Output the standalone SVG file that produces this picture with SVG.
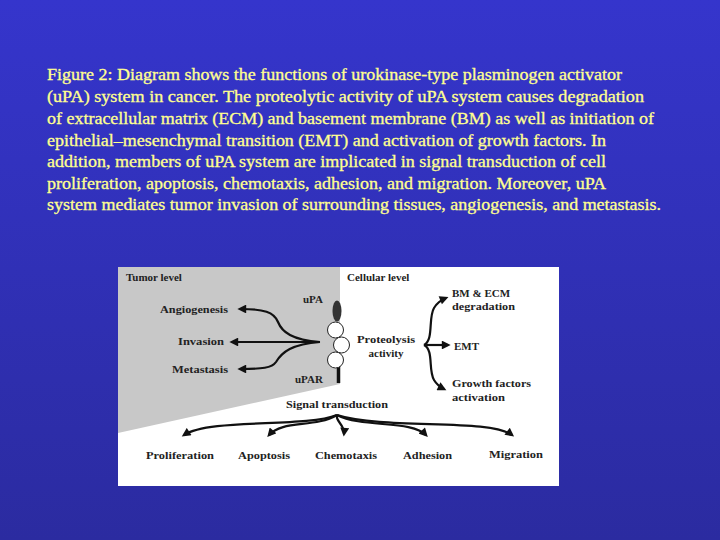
<svg xmlns="http://www.w3.org/2000/svg" width="720" height="540" viewBox="0 0 720 540">
<defs>
<linearGradient id="bg" x1="0" y1="0" x2="0" y2="1">
<stop offset="0" stop-color="#3535cc"/>
<stop offset="1" stop-color="#2b2ba0"/>
</linearGradient>
<marker id="ah" viewBox="0 0 10 10" refX="7" refY="5" markerWidth="4.5" markerHeight="4" orient="auto" markerUnits="strokeWidth">
<path d="M0,0 L10,5 L0,10 Z" fill="#111"/>
</marker>
<style>
.cap{font-family:"Liberation Serif","Times New Roman",serif;font-size:16px;fill:#ffff90;stroke:#ffff90;stroke-width:0.3;}
.lbl{font-family:"Liberation Serif","Times New Roman",serif;font-size:11px;font-weight:bold;fill:#222;}
.arr{fill:none;stroke:#111;stroke-width:2.2;marker-end:url(#ah);}
</style>
</defs>
<rect width="720" height="540" fill="url(#bg)"/>
<g id="caption">
<text class="cap" x="47" y="80" textLength="575" lengthAdjust="spacingAndGlyphs">Figure 2: Diagram shows the functions of urokinase-type plasminogen activator</text>
<text class="cap" x="47" y="102" textLength="597" lengthAdjust="spacingAndGlyphs">(uPA) system in cancer. The proteolytic activity of uPA system causes degradation</text>
<text class="cap" x="47" y="124" textLength="607" lengthAdjust="spacingAndGlyphs">of extracellular matrix (ECM) and basement membrane (BM) as well as initiation of</text>
<text class="cap" x="47" y="146" textLength="559" lengthAdjust="spacingAndGlyphs">epithelial–mesenchymal transition (EMT) and activation of growth factors. In</text>
<text class="cap" x="47" y="167" textLength="559" lengthAdjust="spacingAndGlyphs">addition, members of uPA system are implicated in signal transduction of cell</text>
<text class="cap" x="47" y="189" textLength="559" lengthAdjust="spacingAndGlyphs">proliferation, apoptosis, chemotaxis, adhesion, and migration. Moreover, uPA</text>
<text class="cap" x="47" y="210" textLength="614" lengthAdjust="spacingAndGlyphs">system mediates tumor invasion of surrounding tissues, angiogenesis, and metastasis.</text>
</g>
<g id="panel">
<rect x="118" y="267" width="441" height="219" fill="#ffffff"/>
<polygon points="118,267 340,267 340,384 118,433" fill="#c8c8c8"/>
</g>
<g id="receptor">
<ellipse cx="337" cy="311" rx="4.5" ry="10.5" fill="#333"/>
<line x1="338.5" y1="366" x2="338.5" y2="383" stroke="#111" stroke-width="3.5"/>
<circle cx="335.5" cy="330" r="8" fill="#fff" stroke="#222" stroke-width="1"/>
<circle cx="341.5" cy="345" r="8" fill="#fff" stroke="#222" stroke-width="1"/>
<circle cx="335.5" cy="360" r="8" fill="#fff" stroke="#222" stroke-width="1"/>
</g>
<g id="connectors">
<path class="arr" d="M320,342 C292,340 282,332 278,322 C274,312 264,309 240,309"/>
<path class="arr" d="M320,342 L232,342"/>
<path class="arr" d="M320,342 C292,344 282,352 276,362 C272,368 262,369 240,369"/>
<path class="arr" d="M424,345 C434,340 428,318 434,308 C437,303 441,300 446,298"/>
<path class="arr" d="M424,345 L448,345"/>
<path class="arr" d="M424,345 C434,350 428,370 434,380 C437,385 440,387 444,389"/>
<path class="arr" d="M337,415 C305,428 210,418 184,435"/>
<path class="arr" d="M337,415 C315,428 282,420 269,435"/>
<path class="arr" d="M337,415 C335,421 345,425 344,434"/>
<path class="arr" d="M337,415 C362,428 412,420 426,435"/>
<path class="arr" d="M337,415 C385,430 490,418 512,435"/>
</g>
<g id="labels">
<text class="lbl" x="126" y="281">Tumor level</text>
<text class="lbl" x="347" y="281">Cellular level</text>
<text class="lbl" x="303" y="303">uPA</text>
<text class="lbl" x="160" y="313" textLength="68" lengthAdjust="spacingAndGlyphs">Angiogenesis</text>
<text class="lbl" x="178" y="345" textLength="46" lengthAdjust="spacingAndGlyphs">Invasion</text>
<text class="lbl" x="172" y="373" textLength="56" lengthAdjust="spacingAndGlyphs">Metastasis</text>
<text class="lbl" x="295" y="383">uPAR</text>
<text class="lbl" x="357" y="343" textLength="58" lengthAdjust="spacingAndGlyphs">Proteolysis</text>
<text class="lbl" x="386" y="357" text-anchor="middle">activity</text>
<text class="lbl" x="452" y="297">BM &amp; ECM</text>
<text class="lbl" x="452" y="310" textLength="63" lengthAdjust="spacingAndGlyphs">degradation</text>
<text class="lbl" x="454" y="350">EMT</text>
<text class="lbl" x="452" y="387" textLength="79" lengthAdjust="spacingAndGlyphs">Growth factors</text>
<text class="lbl" x="452" y="401" textLength="53" lengthAdjust="spacingAndGlyphs">activation</text>
<text class="lbl" x="286" y="408" textLength="102" lengthAdjust="spacingAndGlyphs">Signal transduction</text>
<text class="lbl" x="146" y="459" textLength="68" lengthAdjust="spacingAndGlyphs">Proliferation</text>
<text class="lbl" x="238" y="459" textLength="52" lengthAdjust="spacingAndGlyphs">Apoptosis</text>
<text class="lbl" x="315" y="459" textLength="62" lengthAdjust="spacingAndGlyphs">Chemotaxis</text>
<text class="lbl" x="403" y="459" textLength="49" lengthAdjust="spacingAndGlyphs">Adhesion</text>
<text class="lbl" x="489" y="458" textLength="54" lengthAdjust="spacingAndGlyphs">Migration</text>
</g>
</svg>
